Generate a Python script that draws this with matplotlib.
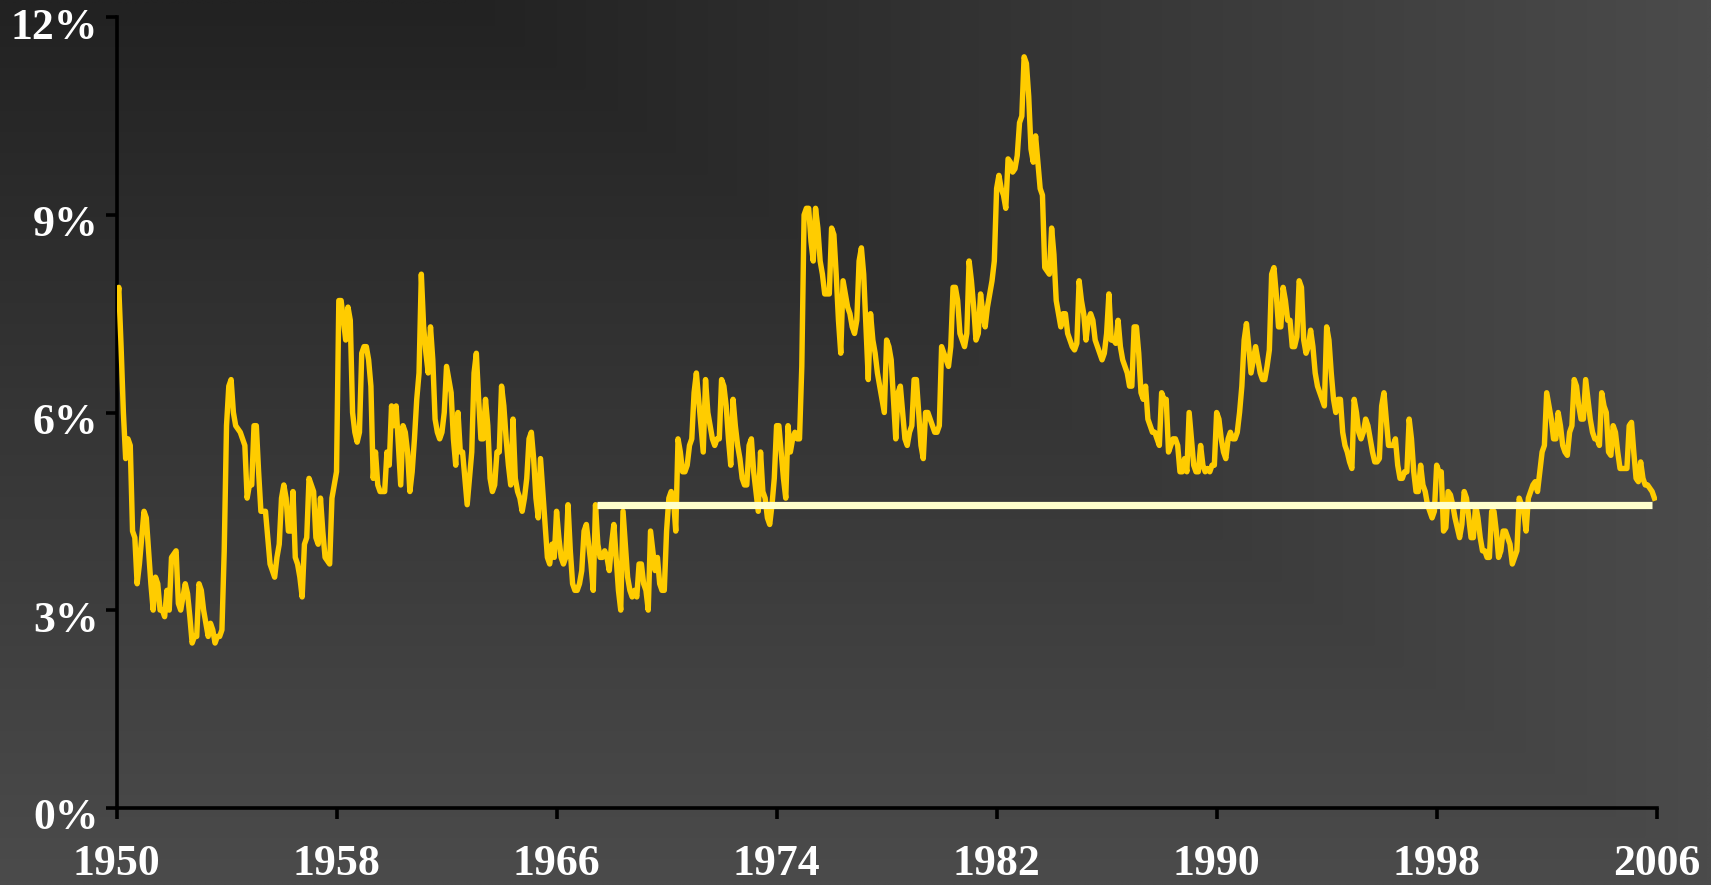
import numpy as np
import matplotlib
matplotlib.use("Agg")
import matplotlib.pyplot as plt
from matplotlib.colors import LinearSegmentedColormap
from matplotlib.transforms import ScaledTranslation

# monthly unemployment rate (%), not seasonally adjusted, Jan 1950 - Dec 2005
rate_1950s = [
    7.6, 7.9, 7.0, 6.0, 5.3, 5.6, 5.5, 4.2, 4.1, 3.4, 3.7, 4.1,   # 1950
    4.5, 4.4, 3.9, 3.4, 3.0, 3.5, 3.4, 3.0, 3.0, 2.9, 3.3, 3.0,   # 1951
    3.8, 3.85, 3.9, 3.1, 3.0, 3.2, 3.4, 3.25, 2.9, 2.5, 2.6, 2.6,  # 1952
    3.4, 3.3, 3.0, 2.8, 2.6, 2.8, 2.7, 2.5, 2.6, 2.6, 2.7, 3.9,   # 1953
    5.8, 6.4, 6.5, 6.0, 5.8, 5.75, 5.7, 5.6, 5.5, 4.7, 4.9, 4.9,  # 1954
    5.8, 5.8, 5.1, 4.5, 4.5, 4.5, 4.1, 3.7, 3.6, 3.5, 3.8, 4.0,   # 1955
    4.7, 4.9, 4.7, 4.2, 4.2, 4.8, 3.8, 3.7, 3.5, 3.2, 4.0, 4.1,   # 1956
    5.0, 4.9, 4.8, 4.1, 4.0, 4.7, 4.2, 3.8, 3.75, 3.7, 4.7, 4.9,  # 1957
    5.1, 7.7, 7.7, 7.4, 7.1, 7.6, 7.4, 6.0, 5.7, 5.55, 5.7, 6.9,  # 1958
    7.0, 7.0, 6.8, 6.4, 5.0, 5.4, 4.9, 4.8, 4.8, 4.8, 5.4, 5.2,   # 1959
]
rate_1960s = [
    6.1, 5.8, 6.1, 5.5, 4.9, 5.8, 5.7, 5.4, 4.8, 5.1, 5.6, 6.2,   # 1960
    6.6, 8.1, 7.3, 6.9, 6.6, 7.3, 6.8, 5.9, 5.7, 5.6, 5.7, 6.0,   # 1961
    6.7, 6.5, 6.3, 5.6, 5.2, 6.0, 5.4, 5.4, 5.0, 4.6, 5.0, 5.4,   # 1962
    6.6, 6.9, 6.2, 5.6, 5.6, 6.2, 5.8, 5.0, 4.8, 4.9, 5.4, 5.4,   # 1963
    6.4, 6.1, 5.6, 5.2, 4.9, 5.9, 5.0, 4.8, 4.7, 4.5, 4.7, 5.0,   # 1964
    5.6, 5.7, 5.3, 4.7, 4.4, 5.3, 4.8, 4.3, 3.8, 3.7, 4.0, 3.8,   # 1965
    4.5, 4.1, 3.8, 3.7, 3.8, 4.6, 3.9, 3.4, 3.3, 3.3, 3.4, 3.6,   # 1966
    4.2, 4.3, 4.0, 3.7, 3.3, 4.6, 4.0, 3.8, 3.8, 3.9, 3.8, 3.6,   # 1967
    4.0, 4.3, 3.8, 3.3, 3.0, 4.5, 4.0, 3.5, 3.3, 3.2, 3.3, 3.2,   # 1968
    3.7, 3.7, 3.4, 3.3, 3.0, 4.2, 3.9, 3.6, 3.8, 3.4, 3.3, 3.3,   # 1969
]
rate_1970s = [
    4.2, 4.7, 4.8, 4.7, 4.2, 5.6, 5.4, 5.1, 5.1, 5.2, 5.5, 5.6,   # 1970
    6.3, 6.6, 6.2, 5.8, 5.4, 6.5, 6.0, 5.8, 5.6, 5.5, 5.6, 5.6,   # 1971
    6.5, 6.4, 6.1, 5.6, 5.2, 6.2, 5.8, 5.5, 5.3, 5.0, 4.9, 4.9,   # 1972
    5.5, 5.6, 5.1, 4.8, 4.5, 5.4, 4.8, 4.7, 4.4, 4.3, 4.6, 5.0,   # 1973
    5.8, 5.8, 5.4, 5.0, 4.7, 5.8, 5.4, 5.6, 5.7, 5.6, 5.6, 6.7,   # 1974
    9.0, 9.1, 9.1, 8.6, 8.3, 9.1, 8.8, 8.3, 8.1, 7.8, 7.8, 7.8,   # 1975
    8.8, 8.7, 8.1, 7.4, 6.9, 8.0, 7.8, 7.6, 7.5, 7.3, 7.2, 7.4,   # 1976
    8.3, 8.5, 8.1, 7.3, 6.5, 7.5, 7.1, 6.9, 6.6, 6.4, 6.2, 6.0,   # 1977
    7.1, 7.0, 6.8, 6.2, 5.6, 6.3, 6.4, 6.0, 5.6, 5.5, 5.7, 5.8,   # 1978
    6.5, 6.5, 6.0, 5.5, 5.3, 6.0, 6.0, 5.9, 5.8, 5.7, 5.7, 5.8,   # 1979
]
rate_1980s = [
    7.0, 6.9, 6.8, 6.7, 7.0, 7.9, 7.9, 7.7, 7.2, 7.1, 7.0, 7.2,   # 1980
    8.3, 8.0, 7.6, 7.1, 7.2, 7.8, 7.5, 7.3, 7.6, 7.8, 8.0, 8.3,   # 1981
    9.4, 9.6, 9.4, 9.3, 9.1, 9.85, 9.8, 9.65, 9.7, 9.9, 10.4, 10.5,  # 1982
    11.4, 11.3, 10.8, 10.0, 9.8, 10.2, 9.8, 9.4, 9.3, 8.2, 8.15, 8.1,  # 1983
    8.8, 8.4, 7.7, 7.5, 7.3, 7.5, 7.5, 7.2, 7.1, 7.0, 6.95, 7.05,  # 1984
    8.0, 7.7, 7.5, 7.1, 7.4, 7.5, 7.4, 7.1, 7.0, 6.9, 6.8, 6.9,   # 1985
    7.2, 7.8, 7.1, 7.1, 7.05, 7.4, 7.0, 6.8, 6.7, 6.6, 6.4, 6.4,  # 1986
    7.3, 7.3, 6.9, 6.3, 6.2, 6.4, 5.9, 5.8, 5.7, 5.7, 5.6, 5.5,   # 1987
    6.3, 6.2, 6.2, 5.4, 5.5, 5.6, 5.6, 5.5, 5.1, 5.1, 5.3, 5.1,   # 1988
    6.0, 5.6, 5.2, 5.1, 5.1, 5.5, 5.2, 5.1, 5.15, 5.1, 5.2, 5.2,  # 1989
]
rate_1990s = [
    6.0, 5.9, 5.6, 5.4, 5.3, 5.6, 5.7, 5.6, 5.6, 5.7, 6.0, 6.4,   # 1990
    7.1, 7.35, 7.0, 6.6, 6.8, 7.0, 6.8, 6.6, 6.5, 6.5, 6.7, 6.95,  # 1991
    8.1, 8.2, 7.8, 7.3, 7.3, 7.9, 7.7, 7.4, 7.4, 7.0, 7.0, 7.15,  # 1992
    8.0, 7.9, 7.1, 6.9, 7.0, 7.25, 7.0, 6.6, 6.4, 6.3, 6.2, 6.1,  # 1993
    7.3, 7.1, 6.6, 6.2, 6.0, 6.2, 6.2, 5.7, 5.5, 5.4, 5.25, 5.15,  # 1994
    6.2, 6.0, 5.7, 5.6, 5.7, 5.9, 5.8, 5.6, 5.4, 5.25, 5.25, 5.3,  # 1995
    6.1, 6.3, 5.9, 5.5, 5.5, 5.5, 5.6, 5.2, 5.0, 5.0, 5.1, 5.1,   # 1996
    5.9, 5.6, 5.1, 4.8, 4.8, 5.2, 4.9, 4.8, 4.6, 4.5, 4.4, 4.5,   # 1997
    5.2, 5.1, 5.1, 4.2, 4.25, 4.8, 4.75, 4.6, 4.4, 4.25, 4.1, 4.3,  # 1998
    4.8, 4.7, 4.4, 4.1, 4.1, 4.6, 4.4, 4.1, 3.9, 3.9, 3.8, 3.8,   # 1999
]
rate_2000s = [
    4.5, 4.5, 4.2, 3.8, 3.9, 4.2, 4.2, 4.1, 4.0, 3.7, 3.8, 3.9,   # 2000
    4.7, 4.6, 4.5, 4.2, 4.7, 4.8, 4.9, 4.95, 4.8, 5.1, 5.4, 5.5,  # 2001
    6.3, 6.1, 5.9, 5.6, 5.6, 6.0, 5.8, 5.5, 5.4, 5.35, 5.7, 5.8,  # 2002
    6.5, 6.4, 6.1, 5.9, 5.9, 6.5, 6.2, 5.9, 5.7, 5.6, 5.6, 5.5,   # 2003
    6.3, 6.1, 6.0, 5.4, 5.35, 5.8, 5.7, 5.4, 5.15, 5.15, 5.15, 5.15,  # 2004
    5.8, 5.85, 5.4, 5.0, 4.95, 5.25, 5.0, 4.9, 4.9, 4.85, 4.8, 4.7,  # 2005
]

# reference level drawn as a flat line
avg_level = 4.6
avg_start, avg_end = 1967.46, 2005.83

year_ticks = [1950, 1958, 1966, 1974, 1982, 1990, 1998, 2006]
pct_ticks = [0, 3, 6, 9, 12]

rate = np.array(rate_1950s + rate_1960s + rate_1970s + rate_1980s + rate_1990s + rate_2000s)
years = 1950 + np.arange(len(rate)) / 12.0

W, H = 1711, 885
fig = plt.figure(figsize=(W / 100, H / 100), dpi=100)

# dark grey background, darkest in the top-left corner
bg = fig.add_axes([0, 0, 1, 1])
gx = np.linspace(0, 1, 600)
gy = np.linspace(0, 1, 300)
tx = np.clip((gx - 0.27) / 0.73, 0, 1)
grad = np.maximum(tx[None, :], gy[:, None])
cmap = LinearSegmentedColormap.from_list("bg", ["#222222", "#4b4b4b"])
bg.imshow(grad, cmap=cmap, aspect="auto", origin="upper", extent=[0, 1, 0, 1],
          interpolation="bilinear")
bg.axis("off")

ax = fig.add_axes([116.5 / W, 1 - 807.7 / H, (1656.7 - 116.5) / W, (807.7 - 17.3) / H])
ax.patch.set_alpha(0)

ax.plot(years, rate, color="#FFCC00", lw=3.9, solid_joinstyle="round", zorder=3)
ax.plot([avg_start, avg_end], [avg_level, avg_level], color="#FFFFCC", lw=5.2,
        solid_capstyle="butt", zorder=4)

ax.set_xlim(1950, 2006)
ax.set_ylim(0, 12)
ax.set_xticks(year_ticks)
ax.set_yticks(pct_ticks)
ax.set_yticklabels([f"{p}%" for p in pct_ticks])

for s in ["top", "right"]:
    ax.spines[s].set_visible(False)
for s in ["left", "bottom"]:
    ax.spines[s].set_color("black")
    ax.spines[s].set_linewidth(2.6)

ax.tick_params(axis="both", colors="black", width=2.6, length=8, direction="out")
ax.tick_params(axis="x", pad=18)
ax.tick_params(axis="y", pad=5)
for lab in ax.get_xticklabels() + ax.get_yticklabels():
    lab.set_fontfamily("Liberation Serif")
    lab.set_fontweight("bold")
    lab.set_fontsize(31.5)
    lab.set_color("white")

# labels on the value axis sit a little below their ticks in the original
shift = ScaledTranslation(0, -6 / 100, fig.dpi_scale_trans)
for lab in ax.get_yticklabels():
    lab.set_transform(lab.get_transform() + shift)

fig.savefig("out.png", dpi=100)
